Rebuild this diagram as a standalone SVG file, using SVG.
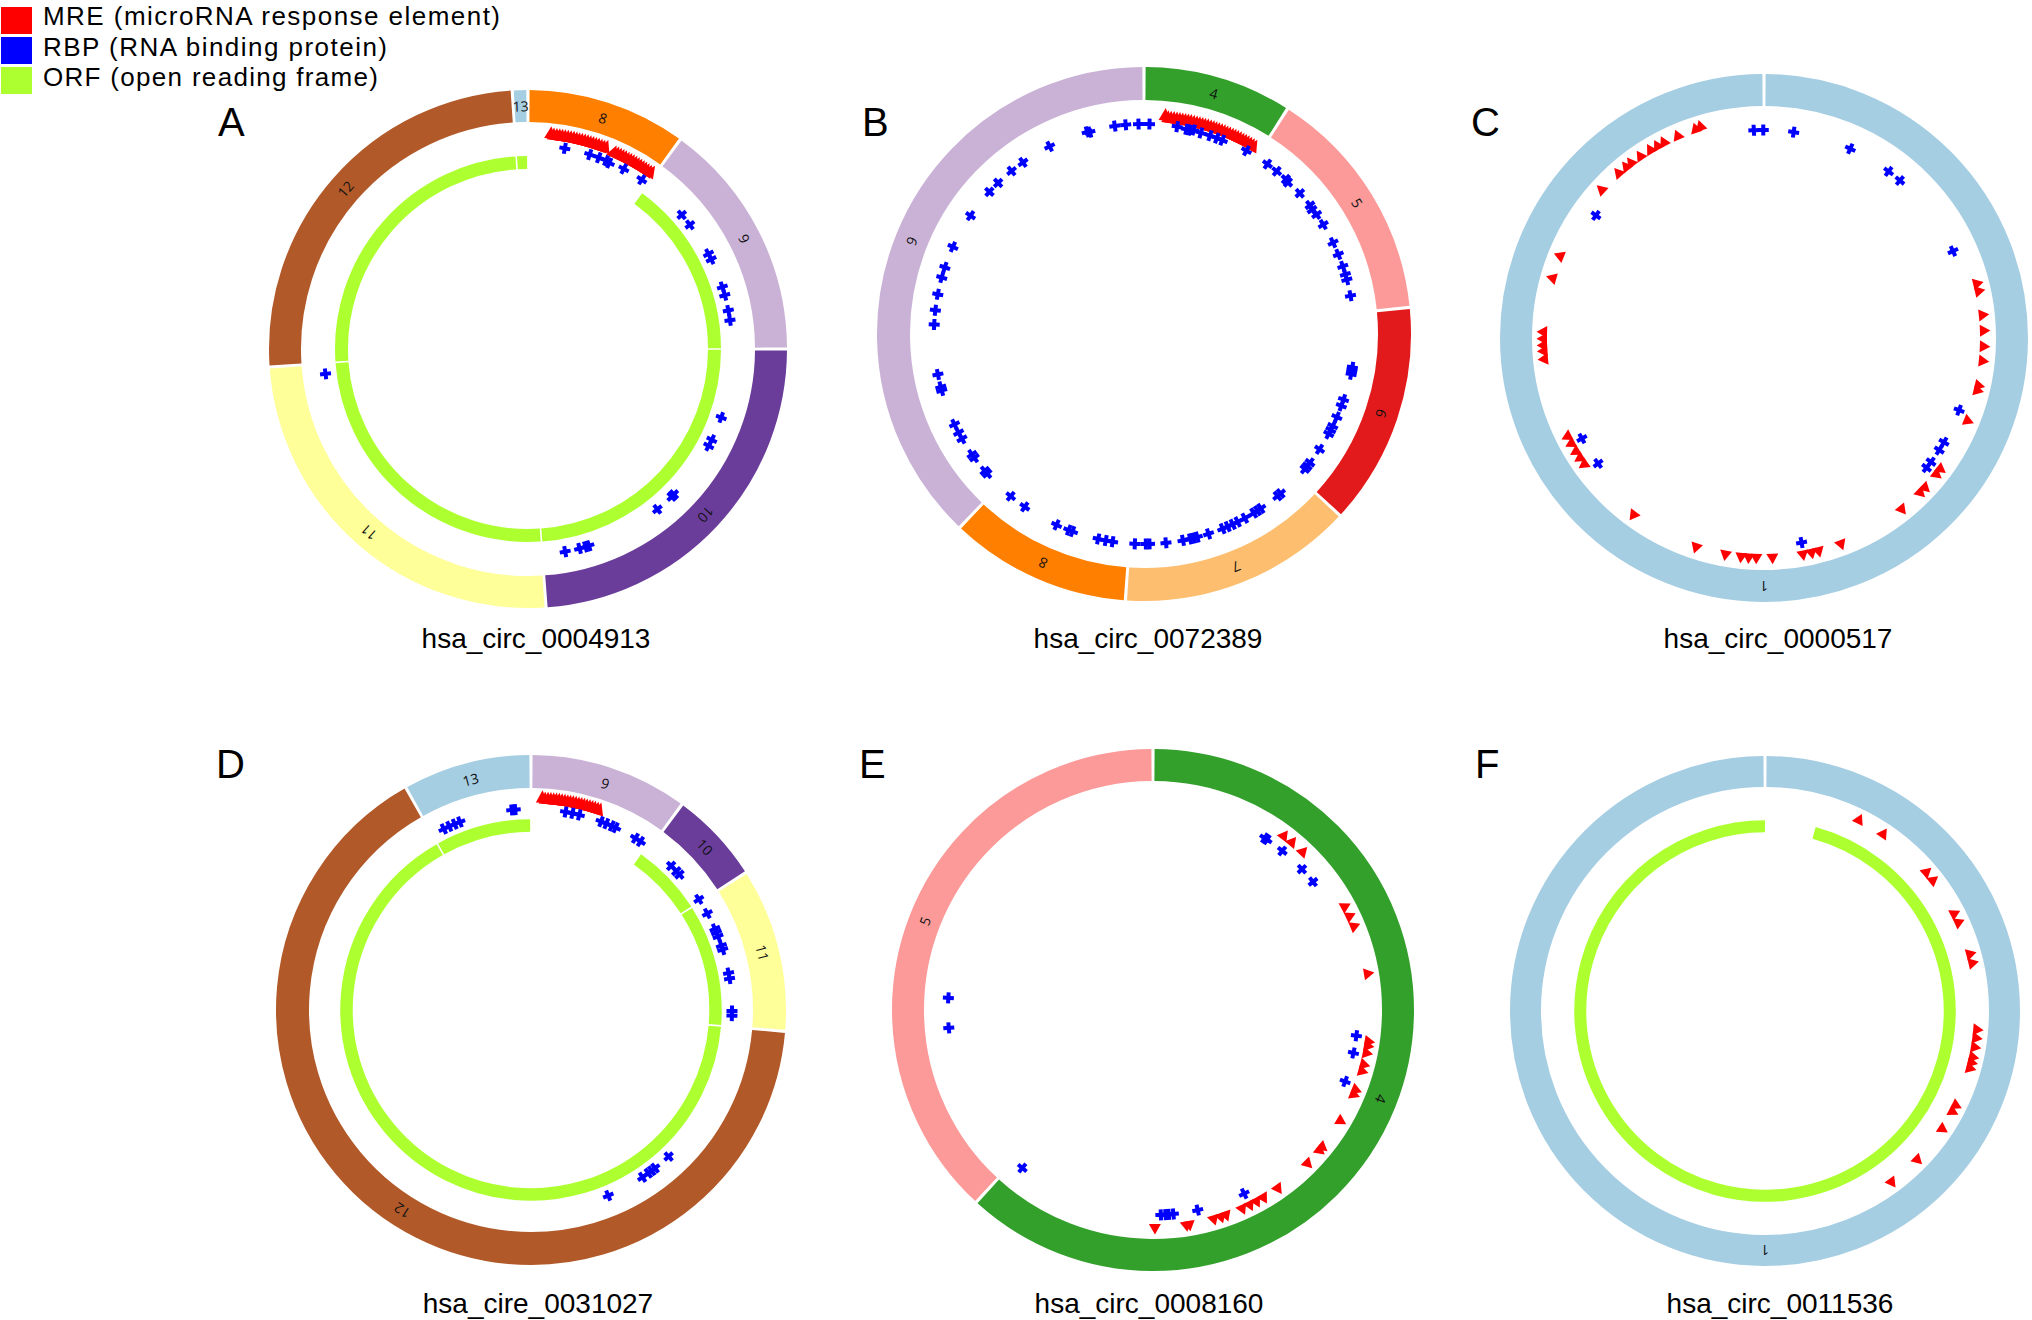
<svg xmlns="http://www.w3.org/2000/svg" width="2032" height="1320" viewBox="0 0 2032 1320">
<style>
.lg{font-family:"Liberation Sans",Arial,sans-serif;font-size:26px;fill:#000}
.pl{font-family:"Liberation Sans",Arial,sans-serif;font-size:40px;fill:#000}
.nm{font-family:"Liberation Sans",Arial,sans-serif;font-size:28px;fill:#000;text-anchor:middle}
.sl{font-family:"Open Sans","Liberation Sans",sans-serif;font-size:14px;fill:#111;text-anchor:middle;dominant-baseline:central}
circle{fill:none}
.orf{stroke:#ADFF2F}
</style>
<defs>
<path id="t" d="M0,-6.5L6,4L-6,4Z" fill="#FF0000"/>
<path id="b" d="M0,-8L6,4.5L-6,4.5Z" fill="#FF0000"/>
<path id="x" d="M-2,-5.5h4v3.5h3.5v4h-3.5v3.5h-4v-3.5h-3.5v-4h3.5z" fill="#0000FF"/>
</defs>
<rect width="2032" height="1320" fill="#fff"/>

<g id="legend">
<rect x="1" y="7" width="31" height="27" fill="#FF0000"/>
<rect x="1" y="37" width="31" height="27" fill="#0000FF"/>
<rect x="1" y="67" width="31" height="27" fill="#ADFF2F"/>
<text class="lg" x="43" y="25" textLength="457">MRE (microRNA response element)</text>
<text class="lg" x="43" y="56" textLength="344">RBP (RNA binding protein)</text>
<text class="lg" x="43" y="86" textLength="335">ORF (open reading frame)</text>
</g>

<g id="panel-letters">
<text class="pl" x="218" y="136">A</text>
<text class="pl" x="862" y="136">B</text>
<text class="pl" x="1471" y="136">C</text>
<text class="pl" x="216" y="778">D</text>
<text class="pl" x="859" y="778">E</text>
<text class="pl" x="1475" y="778">F</text>
</g>

<g id="names">
<text class="nm" x="536" y="648">hsa_circ_0004913</text>
<text class="nm" x="1148" y="648">hsa_circ_0072389</text>
<text class="nm" x="1778" y="648">hsa_circ_0000517</text>
<text class="nm" x="538" y="1313">hsa_cire_0031027</text>
<text class="nm" x="1149" y="1313">hsa_circ_0008160</text>
<text class="nm" x="1780" y="1313">hsa_circ_0011536</text>
</g>

<!-- Panel A -->
<g id="panelA" transform="translate(528,349)">
<g stroke-width="32">
<circle r="243" pathLength="360" stroke="#FF7F00" stroke-dasharray="35.3 360" transform="rotate(-89.65)"/>
<circle r="243" pathLength="360" stroke="#CAB2D6" stroke-dasharray="53.3 360" transform="rotate(-53.65)"/>
<circle r="243" pathLength="360" stroke="#6A3D9A" stroke-dasharray="85.3 360" transform="rotate(0.35)"/>
<circle r="243" pathLength="360" stroke="#FFFF99" stroke-dasharray="89.3 360" transform="rotate(86.35)"/>
<circle r="243" pathLength="360" stroke="#B15928" stroke-dasharray="89.8 360" transform="rotate(176.35)"/>
<circle r="243" pathLength="360" stroke="#A6CEE3" stroke-dasharray="2.8 360" transform="rotate(266.85)"/>
</g>
<g class="orf" stroke-width="13">
<circle r="186.5" pathLength="360" stroke-dasharray="53.5 360" transform="rotate(-53.75)"/>
<circle r="186.5" pathLength="360" stroke-dasharray="85.5 360" transform="rotate(0.25)"/>
<circle r="186.5" pathLength="360" stroke-dasharray="89.5 360" transform="rotate(86.25)"/>
<circle r="186.5" pathLength="360" stroke-dasharray="90 360" transform="rotate(176.25)"/>
<circle r="186.5" pathLength="360" stroke-dasharray="3 360" transform="rotate(266.75)"/>
</g>
<text class="sl" y="-243" transform="rotate(18)">8</text>
<text class="sl" y="-243" transform="rotate(63)">9</text>
<text class="sl" y="-243" transform="rotate(133)">10</text>
<text class="sl" y="-243" transform="rotate(221)">11</text>
<text class="sl" y="-243" transform="rotate(311.25)">12</text>
<text class="sl" y="-243" transform="rotate(358.25)">13</text>
<g id="A-mre">
<use href="#b" transform="rotate(6) translate(0,-216)"/><use href="#b" transform="rotate(6.75) translate(0,-215)"/><use href="#b" transform="rotate(7.5) translate(0,-215)"/><use href="#b" transform="rotate(8.25) translate(0,-215)"/><use href="#b" transform="rotate(9) translate(0,-215)"/><use href="#b" transform="rotate(9.75) translate(0,-215)"/><use href="#b" transform="rotate(10.5) translate(0,-215)"/><use href="#b" transform="rotate(11.25) translate(0,-215)"/><use href="#b" transform="rotate(12) translate(0,-215)"/><use href="#b" transform="rotate(12.75) translate(0,-215)"/><use href="#b" transform="rotate(13.5) translate(0,-215)"/><use href="#b" transform="rotate(14.25) translate(0,-215)"/><use href="#b" transform="rotate(15) translate(0,-215)"/><use href="#b" transform="rotate(15.75) translate(0,-215)"/><use href="#b" transform="rotate(16.5) translate(0,-215)"/><use href="#b" transform="rotate(17.25) translate(0,-215)"/><use href="#b" transform="rotate(18) translate(0,-215)"/><use href="#b" transform="rotate(18.75) translate(0,-215)"/><use href="#b" transform="rotate(19.5) translate(0,-215)"/><use href="#b" transform="rotate(20.25) translate(0,-215)"/><use href="#b" transform="rotate(21) translate(0,-216)"/>
<use href="#b" transform="rotate(23.5) translate(0,-214)"/><use href="#b" transform="rotate(24.25) translate(0,-214)"/><use href="#b" transform="rotate(25) translate(0,-214)"/><use href="#b" transform="rotate(25.75) translate(0,-214)"/><use href="#b" transform="rotate(26.5) translate(0,-214)"/><use href="#b" transform="rotate(27.25) translate(0,-214)"/><use href="#b" transform="rotate(28) translate(0,-214)"/><use href="#b" transform="rotate(28.75) translate(0,-214)"/><use href="#b" transform="rotate(29.5) translate(0,-214)"/><use href="#b" transform="rotate(30.25) translate(0,-214)"/><use href="#b" transform="rotate(31) translate(0,-214)"/><use href="#b" transform="rotate(31.75) translate(0,-214)"/><use href="#b" transform="rotate(32.5) translate(0,-214)"/><use href="#b" transform="rotate(33.25) translate(0,-214)"/><use href="#b" transform="rotate(34) translate(0,-214)"/><use href="#b" transform="rotate(34.75) translate(0,-215)"/>
</g>
<g id="A-rbp">
<use href="#x" transform="rotate(10.4) translate(0,-204)"/><use href="#x" transform="rotate(17.6) translate(0,-204)"/><use href="#x" transform="rotate(20.3) translate(0,-204)"/><use href="#x" transform="rotate(22.5) translate(0,-204)"/><use href="#x" transform="rotate(23.6) translate(0,-203)"/><use href="#x" transform="rotate(28) translate(0,-204)"/><use href="#x" transform="rotate(33.9) translate(0,-204)"/><use href="#x" transform="rotate(48.9) translate(0,-204)"/><use href="#x" transform="rotate(52.5) translate(0,-204)"/><use href="#x" transform="rotate(62.2) translate(0,-204)"/><use href="#x" transform="rotate(63.9) translate(0,-204)"/><use href="#x" transform="rotate(72.3) translate(0,-204)"/><use href="#x" transform="rotate(74.7) translate(0,-204)"/><use href="#x" transform="rotate(79.1) translate(0,-204)"/><use href="#x" transform="rotate(81.9) translate(0,-204)"/><use href="#x" transform="rotate(263) translate(0,-204)"/><use href="#x" transform="rotate(109.5) translate(0,-205)"/><use href="#x" transform="rotate(116.3) translate(0,-205)"/><use href="#x" transform="rotate(118.2) translate(0,-205)"/><use href="#x" transform="rotate(134.9) translate(0,-206)"/><use href="#x" transform="rotate(135.8) translate(0,-206)"/><use href="#x" transform="rotate(141.1) translate(0,-206)"/><use href="#x" transform="rotate(162.8) translate(0,-206)"/><use href="#x" transform="rotate(163.8) translate(0,-206)"/><use href="#x" transform="rotate(165.5) translate(0,-206)"/><use href="#x" transform="rotate(169.6) translate(0,-206)"/>
</g>
</g>

<!-- Panel B -->
<g id="panelB" transform="translate(1144,334)">
<g stroke-width="33">
<circle r="250.5" pathLength="360" stroke="#33A02C" stroke-dasharray="31.8 360" transform="rotate(-89.65)"/>
<circle r="250.5" pathLength="360" stroke="#FB9A99" stroke-dasharray="51.1 360" transform="rotate(-57.15)"/>
<circle r="250.5" pathLength="360" stroke="#E31A1C" stroke-dasharray="47.8 360" transform="rotate(-5.35)"/>
<circle r="250.5" pathLength="360" stroke="#FDBF6F" stroke-dasharray="50.5 360" transform="rotate(43.15)"/>
<circle r="250.5" pathLength="360" stroke="#FF7F00" stroke-dasharray="38.9 360" transform="rotate(94.35)"/>
<circle r="250.5" pathLength="360" stroke="#CAB2D6" stroke-dasharray="135.7 360" transform="rotate(133.95)"/>
</g>
<text class="sl" y="-250.5" transform="rotate(16.2)">4</text>
<text class="sl" y="-250.5" transform="rotate(58.4)">5</text>
<text class="sl" y="-250.5" transform="rotate(108.5)">6</text>
<text class="sl" y="-250.5" transform="rotate(158.4)">7</text>
<text class="sl" y="-250.5" transform="rotate(203.8)">8</text>
<text class="sl" y="-250.5" transform="rotate(291.8)">9</text>
<g id="B-mre">
<use href="#b" transform="rotate(5.5) translate(0,-219)"/><use href="#b" transform="rotate(6.25) translate(0,-217)"/><use href="#b" transform="rotate(7) translate(0,-217)"/><use href="#b" transform="rotate(7.75) translate(0,-217)"/><use href="#b" transform="rotate(8.5) translate(0,-217)"/><use href="#b" transform="rotate(9.25) translate(0,-217)"/><use href="#b" transform="rotate(10) translate(0,-217)"/><use href="#b" transform="rotate(10.75) translate(0,-217)"/><use href="#b" transform="rotate(11.5) translate(0,-217)"/><use href="#b" transform="rotate(12.25) translate(0,-217)"/><use href="#b" transform="rotate(13) translate(0,-217)"/><use href="#b" transform="rotate(13.75) translate(0,-217)"/><use href="#b" transform="rotate(14.5) translate(0,-217)"/><use href="#b" transform="rotate(15.25) translate(0,-217)"/><use href="#b" transform="rotate(16) translate(0,-217)"/><use href="#b" transform="rotate(16.75) translate(0,-217)"/><use href="#b" transform="rotate(17.5) translate(0,-217)"/><use href="#b" transform="rotate(18.25) translate(0,-217)"/><use href="#b" transform="rotate(19) translate(0,-217)"/><use href="#b" transform="rotate(19.75) translate(0,-217)"/><use href="#b" transform="rotate(20.5) translate(0,-217)"/><use href="#b" transform="rotate(21.25) translate(0,-217)"/><use href="#b" transform="rotate(22) translate(0,-217)"/><use href="#b" transform="rotate(22.75) translate(0,-217)"/><use href="#b" transform="rotate(23.5) translate(0,-217)"/><use href="#b" transform="rotate(24.25) translate(0,-217)"/><use href="#b" transform="rotate(25) translate(0,-217)"/><use href="#b" transform="rotate(25.75) translate(0,-217)"/><use href="#b" transform="rotate(26.5) translate(0,-217)"/><use href="#b" transform="rotate(27.25) translate(0,-217)"/><use href="#b" transform="rotate(28) translate(0,-217)"/><use href="#b" transform="rotate(28.75) translate(0,-217)"/><use href="#b" transform="rotate(29.5) translate(0,-217)"/><use href="#b" transform="rotate(30.25) translate(0,-217)"/>
</g>
<g id="B-rbp">
<use href="#x" transform="rotate(352) translate(0,-210)"/><use href="#x" transform="rotate(355) translate(0,-210)"/><use href="#x" transform="rotate(358.5) translate(0,-210)"/><use href="#x" transform="rotate(1.5) translate(0,-210)"/><use href="#x" transform="rotate(344.3) translate(0,-210)"/><use href="#x" transform="rotate(345) translate(0,-209)"/><use href="#x" transform="rotate(9.1) translate(0,-210)"/><use href="#x" transform="rotate(11.7) translate(0,-209)"/><use href="#x" transform="rotate(12.7) translate(0,-209)"/><use href="#x" transform="rotate(13.7) translate(0,-210)"/><use href="#x" transform="rotate(15.8) translate(0,-209)"/><use href="#x" transform="rotate(18.4) translate(0,-209)"/><use href="#x" transform="rotate(20.4) translate(0,-209)"/><use href="#x" transform="rotate(22) translate(0,-209)"/><use href="#x" transform="rotate(29.2) translate(0,-210)"/><use href="#x" transform="rotate(36) translate(0,-210)"/><use href="#x" transform="rotate(39.2) translate(0,-210)"/><use href="#x" transform="rotate(42.5) translate(0,-210)"/><use href="#x" transform="rotate(43.5) translate(0,-209)"/><use href="#x" transform="rotate(47.9) translate(0,-210)"/><use href="#x" transform="rotate(52.2) translate(0,-210)"/><use href="#x" transform="rotate(53.5) translate(0,-209)"/><use href="#x" transform="rotate(55.3) translate(0,-210)"/><use href="#x" transform="rotate(58.6) translate(0,-210)"/><use href="#x" transform="rotate(64.2) translate(0,-210)"/><use href="#x" transform="rotate(67.7) translate(0,-210)"/><use href="#x" transform="rotate(71.2) translate(0,-210)"/><use href="#x" transform="rotate(73.5) translate(0,-210)"/><use href="#x" transform="rotate(75) translate(0,-210)"/><use href="#x" transform="rotate(79.5) translate(0,-210)"/><use href="#x" transform="rotate(99.1) translate(0,-211)"/><use href="#x" transform="rotate(100) translate(0,-211)"/><use href="#x" transform="rotate(101) translate(0,-211)"/><use href="#x" transform="rotate(108.2) translate(0,-210)"/><use href="#x" transform="rotate(110) translate(0,-210)"/><use href="#x" transform="rotate(113.3) translate(0,-210)"/><use href="#x" transform="rotate(116) translate(0,-210)"/><use href="#x" transform="rotate(117.2) translate(0,-210)"/><use href="#x" transform="rotate(118.4) translate(0,-210)"/><use href="#x" transform="rotate(123.3) translate(0,-210)"/><use href="#x" transform="rotate(127.8) translate(0,-210)"/><use href="#x" transform="rotate(129) translate(0,-210)"/><use href="#x" transform="rotate(130) translate(0,-210)"/><use href="#x" transform="rotate(139.4) translate(0,-210)"/><use href="#x" transform="rotate(140.5) translate(0,-210)"/><use href="#x" transform="rotate(146.2) translate(0,-210)"/><use href="#x" transform="rotate(147.3) translate(0,-210)"/><use href="#x" transform="rotate(148.5) translate(0,-210)"/><use href="#x" transform="rotate(151.3) translate(0,-210)"/><use href="#x" transform="rotate(153.5) translate(0,-210)"/><use href="#x" transform="rotate(155) translate(0,-210)"/><use href="#x" transform="rotate(156.5) translate(0,-210)"/><use href="#x" transform="rotate(158) translate(0,-210)"/><use href="#x" transform="rotate(162.1) translate(0,-210)"/><use href="#x" transform="rotate(165.3) translate(0,-210)"/><use href="#x" transform="rotate(166.3) translate(0,-210)"/><use href="#x" transform="rotate(167.3) translate(0,-210)"/><use href="#x" transform="rotate(169.3) translate(0,-210)"/><use href="#x" transform="rotate(174) translate(0,-210)"/><use href="#x" transform="rotate(178.5) translate(0,-210)"/><use href="#x" transform="rotate(179.5) translate(0,-210)"/><use href="#x" transform="rotate(182.5) translate(0,-210)"/><use href="#x" transform="rotate(188.6) translate(0,-210)"/><use href="#x" transform="rotate(190.5) translate(0,-210)"/><use href="#x" transform="rotate(192.6) translate(0,-210)"/><use href="#x" transform="rotate(199.9) translate(0,-210)"/><use href="#x" transform="rotate(201) translate(0,-210)"/><use href="#x" transform="rotate(204.6) translate(0,-210)"/><use href="#x" transform="rotate(214.6) translate(0,-210)"/><use href="#x" transform="rotate(219.4) translate(0,-210)"/><use href="#x" transform="rotate(228.3) translate(0,-210)"/><use href="#x" transform="rotate(229.3) translate(0,-210)"/><use href="#x" transform="rotate(233.9) translate(0,-210)"/><use href="#x" transform="rotate(235) translate(0,-210)"/><use href="#x" transform="rotate(240.1) translate(0,-210)"/><use href="#x" transform="rotate(242) translate(0,-210)"/><use href="#x" transform="rotate(244.5) translate(0,-210)"/><use href="#x" transform="rotate(254.4) translate(0,-210)"/><use href="#x" transform="rotate(255.4) translate(0,-210)"/><use href="#x" transform="rotate(258.9) translate(0,-210)"/><use href="#x" transform="rotate(272.6) translate(0,-210)"/><use href="#x" transform="rotate(276.5) translate(0,-210)"/><use href="#x" transform="rotate(280.9) translate(0,-210)"/><use href="#x" transform="rotate(285.6) translate(0,-210)"/><use href="#x" transform="rotate(288.5) translate(0,-210)"/><use href="#x" transform="rotate(294.5) translate(0,-210)"/><use href="#x" transform="rotate(304.3) translate(0,-210)"/><use href="#x" transform="rotate(312.6) translate(0,-210)"/><use href="#x" transform="rotate(316) translate(0,-210)"/><use href="#x" transform="rotate(320.9) translate(0,-210)"/><use href="#x" transform="rotate(324.8) translate(0,-210)"/><use href="#x" transform="rotate(333.3) translate(0,-210)"/>
</g>
</g>

<!-- Panel C -->
<g id="panelC" transform="translate(1764,338)">
<circle r="248" pathLength="360" stroke="#A6CEE3" stroke-width="32" stroke-dasharray="359.3 360" transform="rotate(-89.65)"/>
<text class="sl" y="-248" transform="rotate(180)">1</text>
<g id="C-mre">
<use href="#t" transform="rotate(341.9) translate(0,-220)"/><use href="#t" transform="rotate(343.3) translate(0,-221)"/><use href="#t" transform="rotate(336.9) translate(0,-220)"/><use href="#t" transform="rotate(332.9) translate(0,-220)"/><use href="#t" transform="rotate(331) translate(0,-220)"/><use href="#t" transform="rotate(328.9) translate(0,-220)"/><use href="#t" transform="rotate(325.8) translate(0,-220)"/><use href="#t" transform="rotate(322.8) translate(0,-220)"/><use href="#t" transform="rotate(321.2) translate(0,-220)"/><use href="#t" transform="rotate(318.6) translate(0,-220)"/><use href="#t" transform="rotate(312.4) translate(0,-220)"/><use href="#t" transform="rotate(291.9) translate(0,-220)"/><use href="#t" transform="rotate(285.8) translate(0,-220)"/><use href="#t" transform="rotate(271.6) translate(0,-221)"/><use href="#t" transform="rotate(269.8) translate(0,-221)"/><use href="#t" transform="rotate(268.1) translate(0,-221)"/><use href="#t" transform="rotate(266.6) translate(0,-221)"/><use href="#t" transform="rotate(264.5) translate(0,-221)"/><use href="#t" transform="rotate(243.4) translate(0,-220)"/><use href="#t" transform="rotate(241.3) translate(0,-220)"/><use href="#t" transform="rotate(238.9) translate(0,-220)"/><use href="#t" transform="rotate(236.9) translate(0,-220)"/><use href="#t" transform="rotate(234.9) translate(0,-220)"/><use href="#t" transform="rotate(216.4) translate(0,-220)"/><use href="#t" transform="rotate(198) translate(0,-220)"/><use href="#t" transform="rotate(190.1) translate(0,-220)"/><use href="#t" transform="rotate(186) translate(0,-220)"/><use href="#t" transform="rotate(184) translate(0,-220)"/><use href="#t" transform="rotate(182) translate(0,-220)"/><use href="#t" transform="rotate(177.8) translate(0,-220)"/><use href="#t" transform="rotate(169.8) translate(0,-220)"/><use href="#t" transform="rotate(167.5) translate(0,-220)"/><use href="#t" transform="rotate(165.6) translate(0,-220)"/><use href="#t" transform="rotate(159.5) translate(0,-220)"/><use href="#t" transform="rotate(141.2) translate(0,-220)"/><use href="#t" transform="rotate(134.7) translate(0,-220)"/><use href="#t" transform="rotate(132.9) translate(0,-220)"/><use href="#t" transform="rotate(128.3) translate(0,-220)"/><use href="#t" transform="rotate(126.6) translate(0,-220)"/><use href="#t" transform="rotate(112.1) translate(0,-220)"/><use href="#t" transform="rotate(102.5) translate(0,-220)"/><use href="#t" transform="rotate(103.8) translate(0,-220)"/><use href="#t" transform="rotate(96) translate(0,-220)"/><use href="#t" transform="rotate(92.2) translate(0,-220)"/><use href="#t" transform="rotate(88.1) translate(0,-220)"/><use href="#t" transform="rotate(84) translate(0,-220)"/><use href="#t" transform="rotate(75.7) translate(0,-220)"/><use href="#t" transform="rotate(77.7) translate(0,-220)"/>
</g>
<g id="C-rbp">
<use href="#x" transform="rotate(357.2) translate(0,-208)"/><use href="#x" transform="rotate(359.8) translate(0,-208)"/><use href="#x" transform="rotate(8.2) translate(0,-208)"/><use href="#x" transform="rotate(24.5) translate(0,-208)"/><use href="#x" transform="rotate(36.8) translate(0,-208)"/><use href="#x" transform="rotate(40.8) translate(0,-208)"/><use href="#x" transform="rotate(65.3) translate(0,-208)"/><use href="#x" transform="rotate(110.3) translate(0,-208)"/><use href="#x" transform="rotate(120.1) translate(0,-208)"/><use href="#x" transform="rotate(122.6) translate(0,-208)"/><use href="#x" transform="rotate(126.6) translate(0,-208)"/><use href="#x" transform="rotate(128.6) translate(0,-208)"/><use href="#x" transform="rotate(169.6) translate(0,-208)"/><use href="#x" transform="rotate(241.1) translate(0,-208)"/><use href="#x" transform="rotate(232.9) translate(0,-208)"/><use href="#x" transform="rotate(306.1) translate(0,-208)"/>
</g>
</g>

<!-- Panel D -->
<g id="panelD" transform="translate(531,1010)">
<g stroke-width="33">
<circle r="238.5" pathLength="360" stroke="#CAB2D6" stroke-dasharray="35.6 360" transform="rotate(-89.65)"/>
<circle r="238.5" pathLength="360" stroke="#6A3D9A" stroke-dasharray="20.4 360" transform="rotate(-53.35)"/>
<circle r="238.5" pathLength="360" stroke="#FFFF99" stroke-dasharray="36.7 360" transform="rotate(-32.25)"/>
<circle r="238.5" pathLength="360" stroke="#B15928" stroke-dasharray="235.1 360" transform="rotate(5.15)"/>
<circle r="238.5" pathLength="360" stroke="#A6CEE3" stroke-dasharray="28.7 360" transform="rotate(240.95)"/>
</g>
<g class="orf" stroke-width="12.5">
<circle r="184.5" pathLength="360" stroke-dasharray="21.9 360" transform="rotate(-54.75)"/>
<circle r="184.5" pathLength="360" stroke-dasharray="36.9 360" transform="rotate(-32.35)"/>
<circle r="184.5" pathLength="360" stroke-dasharray="235.3 360" transform="rotate(5.05)"/>
<circle r="184.5" pathLength="360" stroke-dasharray="28.9 360" transform="rotate(240.85)"/>
</g>
<text class="sl" y="-238.5" transform="rotate(18.15)">9</text>
<text class="sl" y="-238.5" transform="rotate(46.85)">10</text>
<text class="sl" y="-238.5" transform="rotate(76.1)">11</text>
<text class="sl" y="-238.5" transform="rotate(212.7)">12</text>
<text class="sl" y="-238.5" transform="rotate(345.3)">13</text>
<g id="D-mre">
<use href="#b" transform="rotate(3) translate(0,-212)"/><use href="#b" transform="rotate(3.75) translate(0,-211)"/><use href="#b" transform="rotate(4.5) translate(0,-211)"/><use href="#b" transform="rotate(5.25) translate(0,-211)"/><use href="#b" transform="rotate(6) translate(0,-211)"/><use href="#b" transform="rotate(6.75) translate(0,-211)"/><use href="#b" transform="rotate(7.5) translate(0,-211)"/><use href="#b" transform="rotate(8.25) translate(0,-211)"/><use href="#b" transform="rotate(9) translate(0,-211)"/><use href="#b" transform="rotate(9.75) translate(0,-211)"/><use href="#b" transform="rotate(10.5) translate(0,-211)"/><use href="#b" transform="rotate(11.25) translate(0,-211)"/><use href="#b" transform="rotate(12) translate(0,-211)"/><use href="#b" transform="rotate(12.75) translate(0,-211)"/><use href="#b" transform="rotate(13.5) translate(0,-211)"/><use href="#b" transform="rotate(14.25) translate(0,-211)"/><use href="#b" transform="rotate(15) translate(0,-211)"/><use href="#b" transform="rotate(15.75) translate(0,-211)"/><use href="#b" transform="rotate(16.5) translate(0,-211)"/><use href="#b" transform="rotate(17.25) translate(0,-211)"/><use href="#b" transform="rotate(18) translate(0,-211)"/><use href="#b" transform="rotate(18.75) translate(0,-211)"/>
</g>
<g id="D-rbp">
<use href="#x" transform="rotate(354.5) translate(0,-201)"/><use href="#x" transform="rotate(355.5) translate(0,-201)"/><use href="#x" transform="rotate(334.3) translate(0,-201)"/><use href="#x" transform="rotate(336) translate(0,-201)"/><use href="#x" transform="rotate(337.7) translate(0,-201)"/><use href="#x" transform="rotate(339.3) translate(0,-201)"/><use href="#x" transform="rotate(9.9) translate(0,-201)"/><use href="#x" transform="rotate(11.9) translate(0,-201)"/><use href="#x" transform="rotate(13.9) translate(0,-201)"/><use href="#x" transform="rotate(20.4) translate(0,-201)"/><use href="#x" transform="rotate(22) translate(0,-201)"/><use href="#x" transform="rotate(23.7) translate(0,-201)"/><use href="#x" transform="rotate(24.9) translate(0,-201)"/><use href="#x" transform="rotate(31.3) translate(0,-201)"/><use href="#x" transform="rotate(33) translate(0,-201)"/><use href="#x" transform="rotate(44.2) translate(0,-201)"/><use href="#x" transform="rotate(46.3) translate(0,-201)"/><use href="#x" transform="rotate(47.6) translate(0,-201)"/><use href="#x" transform="rotate(56.6) translate(0,-201)"/><use href="#x" transform="rotate(61.3) translate(0,-201)"/><use href="#x" transform="rotate(66.2) translate(0,-201)"/><use href="#x" transform="rotate(67.3) translate(0,-201)"/><use href="#x" transform="rotate(68.5) translate(0,-201)"/><use href="#x" transform="rotate(71.3) translate(0,-201)"/><use href="#x" transform="rotate(72.5) translate(0,-201)"/><use href="#x" transform="rotate(79.4) translate(0,-201)"/><use href="#x" transform="rotate(81) translate(0,-201)"/><use href="#x" transform="rotate(90.3) translate(0,-201)"/><use href="#x" transform="rotate(91.6) translate(0,-201)"/><use href="#x" transform="rotate(136.8) translate(0,-201)"/><use href="#x" transform="rotate(141.9) translate(0,-201)"/><use href="#x" transform="rotate(143.1) translate(0,-201)"/><use href="#x" transform="rotate(144.3) translate(0,-201)"/><use href="#x" transform="rotate(146.3) translate(0,-201)"/><use href="#x" transform="rotate(157.4) translate(0,-201)"/>
</g>
</g>

<!-- Panel E -->
<g id="panelE" transform="translate(1153,1010)">
<g stroke-width="32">
<circle r="245" pathLength="360" stroke="#33A02C" stroke-dasharray="221.9 360" transform="rotate(-89.65)"/>
<circle r="245" pathLength="360" stroke="#FB9A99" stroke-dasharray="136.7 360" transform="rotate(132.95)"/>
</g>
<text class="sl" y="-245" transform="rotate(111.3)">4</text>
<text class="sl" y="-245" transform="rotate(291.3)">5</text>
<g id="E-mre">
<use href="#t" transform="rotate(36.9) translate(0,-218)"/><use href="#t" transform="rotate(39.6) translate(0,-218)"/><use href="#t" transform="rotate(43.4) translate(0,-218)"/><use href="#t" transform="rotate(61.7) translate(0,-218)"/><use href="#t" transform="rotate(64.5) translate(0,-218)"/><use href="#t" transform="rotate(67.4) translate(0,-218)"/><use href="#t" transform="rotate(80.4) translate(0,-218)"/><use href="#t" transform="rotate(98.3) translate(0,-218)"/><use href="#t" transform="rotate(99.5) translate(0,-218)"/><use href="#t" transform="rotate(101.4) translate(0,-218)"/><use href="#t" transform="rotate(104.5) translate(0,-218)"/><use href="#t" transform="rotate(106.3) translate(0,-218)"/><use href="#t" transform="rotate(111.5) translate(0,-218)"/><use href="#t" transform="rotate(112.8) translate(0,-218)"/><use href="#t" transform="rotate(120.6) translate(0,-218)"/><use href="#t" transform="rotate(129) translate(0,-218)"/><use href="#t" transform="rotate(130.1) translate(0,-218)"/><use href="#t" transform="rotate(134.8) translate(0,-218)"/><use href="#t" transform="rotate(145) translate(0,-218)"/><use href="#t" transform="rotate(149.5) translate(0,-218)"/><use href="#t" transform="rotate(151.6) translate(0,-218)"/><use href="#t" transform="rotate(153.6) translate(0,-218)"/><use href="#t" transform="rotate(155.8) translate(0,-218)"/><use href="#t" transform="rotate(160.4) translate(0,-218)"/><use href="#t" transform="rotate(161.8) translate(0,-218)"/><use href="#t" transform="rotate(163.8) translate(0,-218)"/><use href="#t" transform="rotate(170.4) translate(0,-218)"/><use href="#t" transform="rotate(171.2) translate(0,-218)"/><use href="#t" transform="rotate(179.5) translate(0,-218)"/>
</g>
<g id="E-rbp">
<use href="#x" transform="rotate(33) translate(0,-205)"/><use href="#x" transform="rotate(33.8) translate(0,-205)"/><use href="#x" transform="rotate(39.1) translate(0,-205)"/><use href="#x" transform="rotate(46.6) translate(0,-205)"/><use href="#x" transform="rotate(51.3) translate(0,-205)"/><use href="#x" transform="rotate(97.2) translate(0,-205)"/><use href="#x" transform="rotate(102.1) translate(0,-205)"/><use href="#x" transform="rotate(110.4) translate(0,-205)"/><use href="#x" transform="rotate(153.6) translate(0,-205)"/><use href="#x" transform="rotate(167.4) translate(0,-205)"/><use href="#x" transform="rotate(174.3) translate(0,-205)"/><use href="#x" transform="rotate(175.6) translate(0,-205)"/><use href="#x" transform="rotate(176.5) translate(0,-205)"/><use href="#x" transform="rotate(177.8) translate(0,-205)"/><use href="#x" transform="rotate(273.4) translate(0,-205)"/><use href="#x" transform="rotate(265) translate(0,-205)"/><use href="#x" transform="rotate(219.6) translate(0,-205)"/>
</g>
</g>

<!-- Panel F -->
<g id="panelF" transform="translate(1765,1011)">
<circle r="239.5" pathLength="360" stroke="#A6CEE3" stroke-width="31" stroke-dasharray="359.3 360" transform="rotate(-89.65)"/>
<circle class="orf" r="184.75" pathLength="360" stroke-width="12" stroke-dasharray="344.6 360" transform="rotate(-74.6)"/>
<text class="sl" y="-239.5" transform="rotate(180)">1</text>
<g id="F-mre">
<use href="#t" transform="rotate(26.2) translate(0,-213)"/><use href="#t" transform="rotate(33.7) translate(0,-213)"/><use href="#t" transform="rotate(49.3) translate(0,-213)"/><use href="#t" transform="rotate(52.1) translate(0,-213)"/><use href="#t" transform="rotate(62.8) translate(0,-213)"/><use href="#t" transform="rotate(65.4) translate(0,-213)"/><use href="#t" transform="rotate(74.5) translate(0,-213)"/><use href="#t" transform="rotate(77) translate(0,-213)"/><use href="#t" transform="rotate(95) translate(0,-213)"/><use href="#t" transform="rotate(97.3) translate(0,-213)"/><use href="#t" transform="rotate(99.8) translate(0,-213)"/><use href="#t" transform="rotate(102.5) translate(0,-213)"/><use href="#t" transform="rotate(104) translate(0,-213)"/><use href="#t" transform="rotate(105.6) translate(0,-213)"/><use href="#t" transform="rotate(116.3) translate(0,-213)"/><use href="#t" transform="rotate(118.2) translate(0,-213)"/><use href="#t" transform="rotate(123.6) translate(0,-213)"/><use href="#t" transform="rotate(134.3) translate(0,-213)"/><use href="#t" transform="rotate(143.5) translate(0,-213)"/>
</g>
</g>
</svg>
